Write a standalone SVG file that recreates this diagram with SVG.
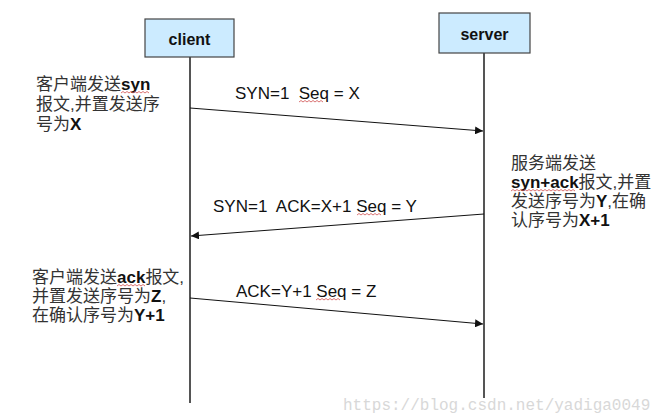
<svg xmlns="http://www.w3.org/2000/svg" width="666" height="418" viewBox="0 0 666 418">
<style>
.box{fill:#CCEBFF;stroke:#444;stroke-width:1.2}
.life{stroke:#555;stroke-width:2;fill:none}
.msg{stroke:#111;stroke-width:1;fill:none}
.t{font-family:"Liberation Sans","Noto Sans CJK SC",sans-serif;font-size:17px;fill:#333}
.b{font-weight:bold;fill:#111}
.lbl{font-family:"Liberation Sans","Noto Sans CJK SC",sans-serif;font-size:17px;fill:#111;white-space:pre}
.name{font-family:"Liberation Sans",sans-serif;font-size:16px;font-weight:bold;fill:#111;text-anchor:middle}
.sq{stroke:#D05050;stroke-width:0.8;fill:none}
.wm{font-family:"Liberation Mono",monospace;font-size:16px;fill:#d8d8d8}
</style>
<defs>
<marker id="ah" viewBox="0 0 10 10" refX="10" refY="5" markerWidth="8" markerHeight="8" markerUnits="userSpaceOnUse" orient="auto">
<path d="M0,0 L10,5 L0,10 z" fill="#111"/>
</marker>
</defs>
<text class="wm" x="343" y="410">https://blog.csdn.net/yadiga0049</text>
<g id="client">
<line class="life" x1="190" y1="57" x2="190" y2="403"/>
<rect class="box" x="145" y="19" width="89" height="38"/>
<text class="name" x="189.5" y="45">client</text>
</g>
<g id="server">
<line class="life" x1="484" y1="53" x2="484" y2="398"/>
<rect class="box" x="439" y="13" width="91" height="40"/>
<text class="name" x="484.5" y="40">server</text>
</g>
<g id="connectors">
<line class="msg" x1="190" y1="108" x2="483" y2="131" marker-end="url(#ah)"/>
<line class="msg" x1="484" y1="214" x2="191" y2="236" marker-end="url(#ah)"/>
<line class="msg" x1="190" y1="298" x2="483" y2="324" marker-end="url(#ah)"/>
</g>
<g id="label1">
<text class="lbl" x="235" y="99" xml:space="preserve">SYN=1  Seq = X</text>
<path class="sq" d="M299,102 l2,-1.5 l2,1.5 l2,-1.5 l2,1.5 l2,-1.5 l2,1.5 l2,-1.5 l2,1.5 l2,-1.5 l2,1.5 l2,-1.5 l2,1.5"/>
</g>
<g id="label2">
<text class="lbl" x="213" y="212" xml:space="preserve">SYN=1  ACK=X+1 Seq = Y</text>
<path class="sq" d="M357,215 l2,-1.5 l2,1.5 l2,-1.5 l2,1.5 l2,-1.5 l2,1.5 l2,-1.5 l2,1.5 l2,-1.5 l2,1.5 l2,-1.5 l2,1.5"/>
</g>
<g id="label3">
<text class="lbl" x="236" y="297" xml:space="preserve">ACK=Y+1 Seq = Z</text>
<path class="sq" d="M316,300 l2,-1.5 l2,1.5 l2,-1.5 l2,1.5 l2,-1.5 l2,1.5 l2,-1.5 l2,1.5 l2,-1.5 l2,1.5 l2,-1.5 l2,1.5"/>
</g>
<g id="note-client-1">
<text class="t" x="36" y="90">客户端发送<tspan class="b">syn</tspan></text>
<text class="t" x="36" y="110">报文,并置发送序</text>
<text class="t" x="36" y="130">号为<tspan class="b">X</tspan></text>
<path class="sq" d="M121,93 l2,-1.5 l2,1.5 l2,-1.5 l2,1.5 l2,-1.5 l2,1.5 l2,-1.5 l2,1.5 l2,-1.5 l2,1.5 l2,-1.5 l2,1.5 l2,-1.5 l2,1.5"/>
</g>
<g id="note-server">
<text class="t" x="511" y="169">服务端发送</text>
<text class="t" x="511" y="188"><tspan class="b">syn+ack</tspan>报文,并置</text>
<text class="t" x="511" y="207">发送序号为<tspan class="b">Y</tspan>,在确</text>
<text class="t" x="511" y="226">认序号为<tspan class="b">X+1</tspan></text>
<path class="sq" d="M511,191 l2,-1.5 l2,1.5 l2,-1.5 l2,1.5 l2,-1.5 l2,1.5 l2,-1.5 l2,1.5 l2,-1.5 l2,1.5 l2,-1.5 l2,1.5 l2,-1.5 l2,1.5 l2,-1.5 l2,1.5 l2,-1.5 l2,1.5 l2,-1.5 l2,1.5 l2,-1.5 l2,1.5 l2,-1.5 l2,1.5 l2,-1.5 l2,1.5 l2,-1.5 l2,1.5 l2,-1.5 l2,1.5 l2,-1.5 l2,1.5"/>
</g>
<g id="note-client-2">
<text class="t" x="32" y="283">客户端发送<tspan class="b">ack</tspan>报文,</text>
<text class="t" x="32" y="302">并置发送序号为<tspan class="b">Z</tspan>,</text>
<text class="t" x="32" y="321">在确认序号为<tspan class="b">Y+1</tspan></text>
<path class="sq" d="M117,286 l2,-1.5 l2,1.5 l2,-1.5 l2,1.5 l2,-1.5 l2,1.5 l2,-1.5 l2,1.5 l2,-1.5 l2,1.5 l2,-1.5 l2,1.5 l2,-1.5 l2,1.5"/>
</g>
</svg>
